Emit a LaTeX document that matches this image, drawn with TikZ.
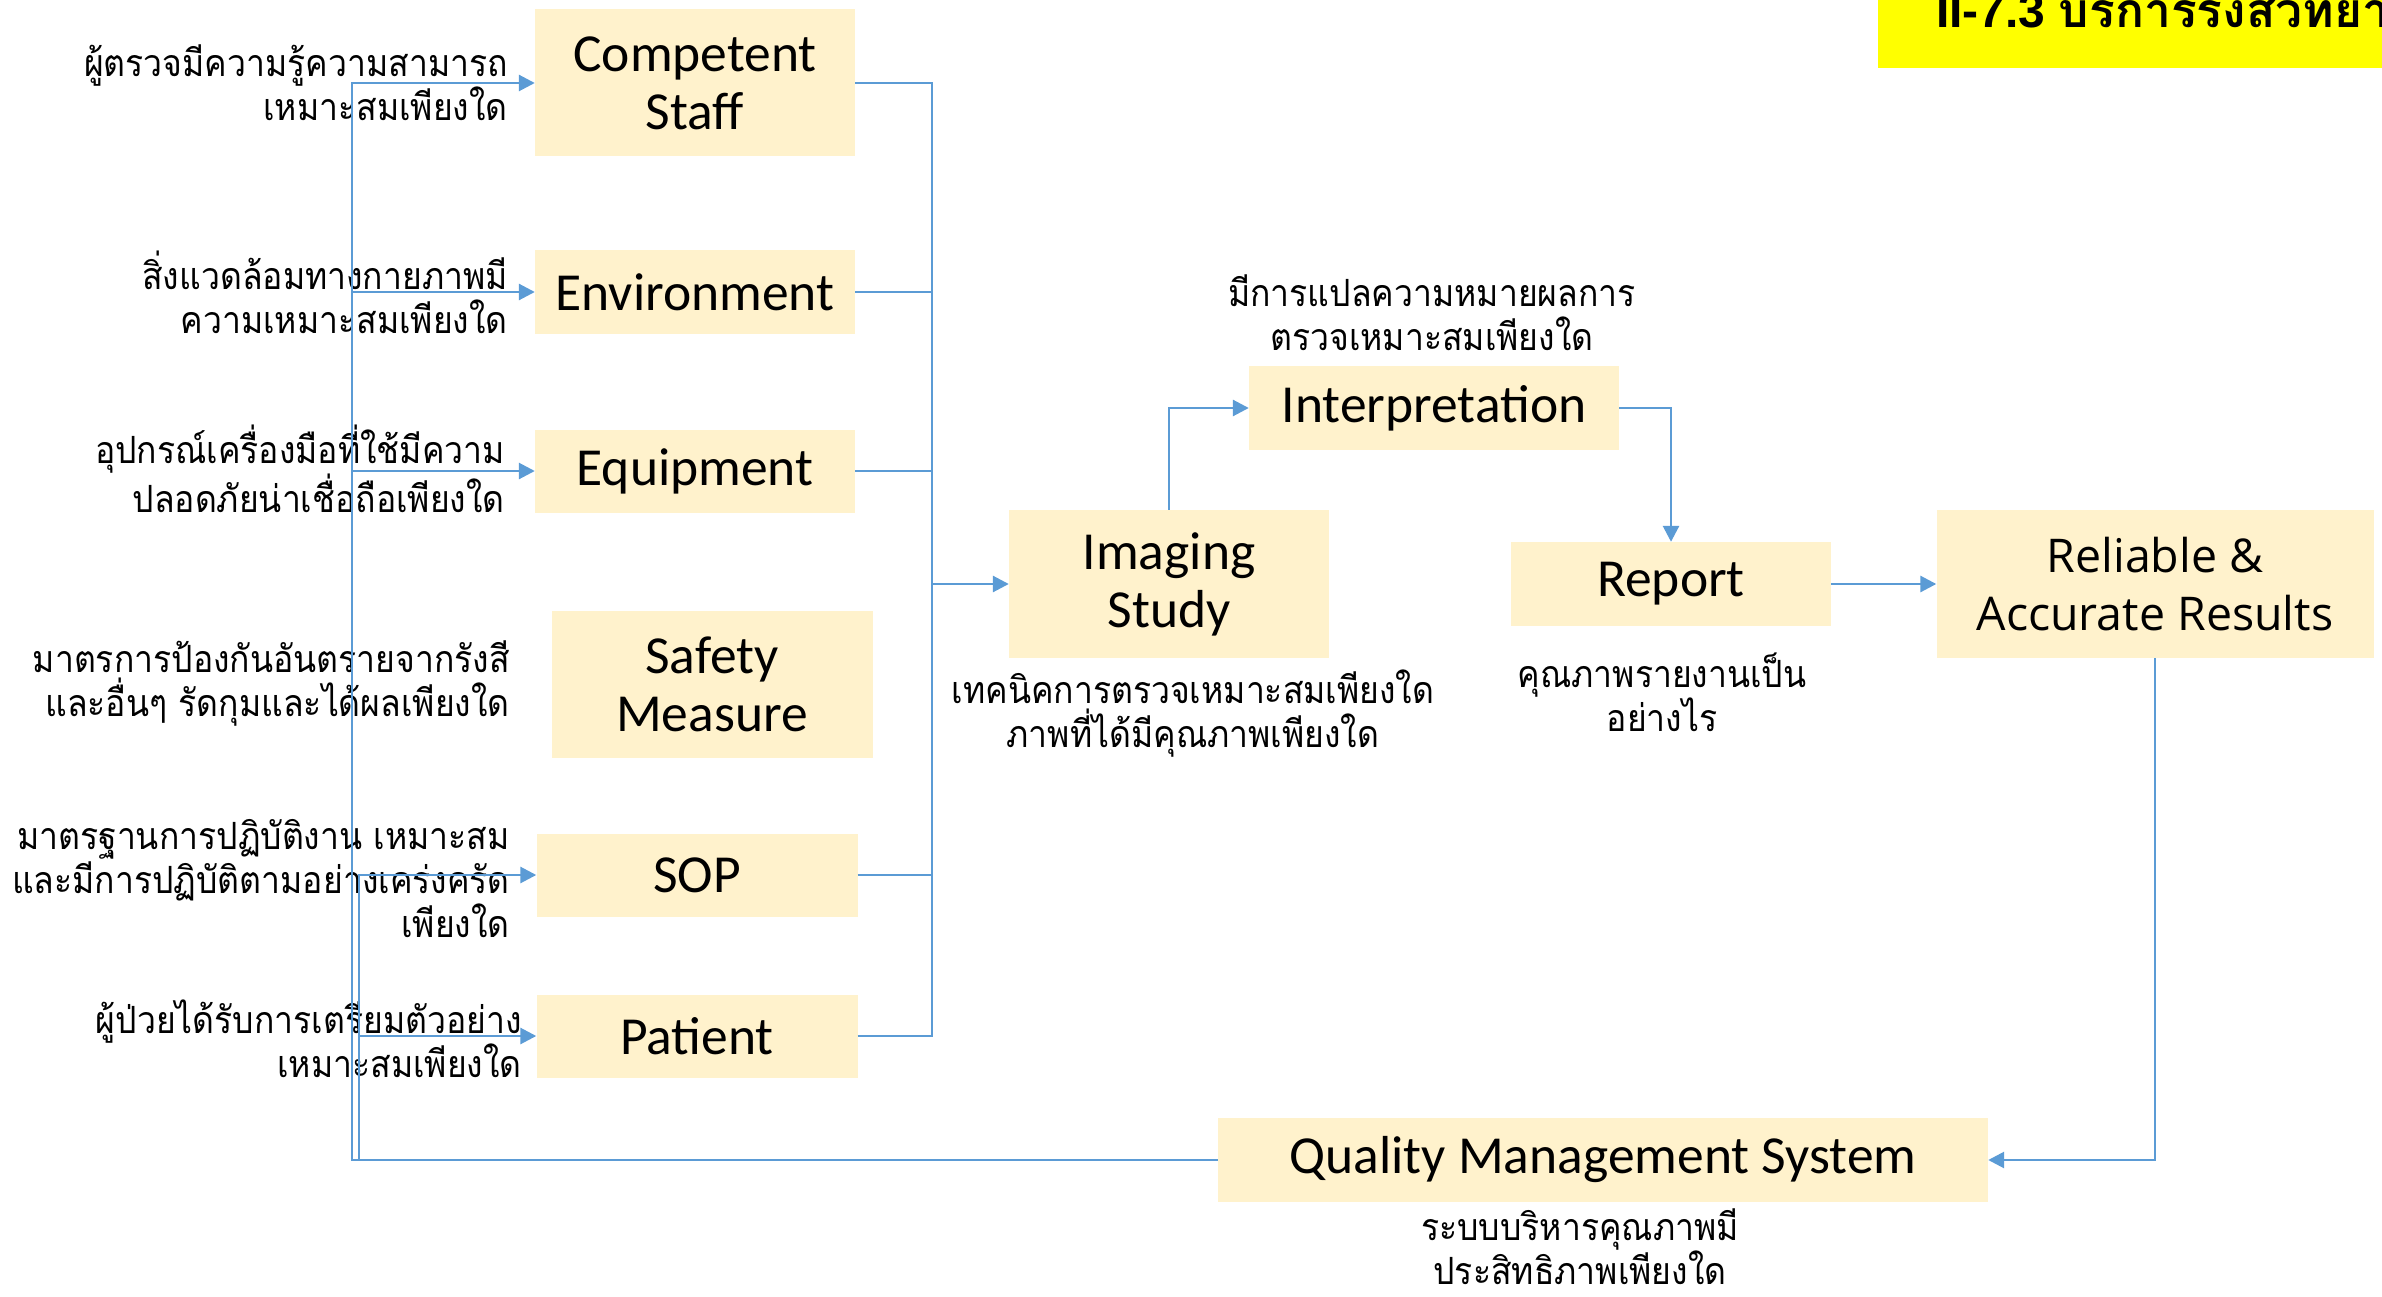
\documentclass[tikz,border=0pt]{standalone}
\usepackage{fontspec}
\usetikzlibrary{arrows.meta,calc}
\newfontfamily\boxfont{Carlito}
\newfontfamily\relfont{Open Sans}
\newfontfamily\thaifont[Script=Thai]{Loma}
\newfontfamily\thailbl[Script=Thai,FakeStretch=0.9]{Loma}
\newfontfamily\titlelat{Liberation Sans}
\definecolor{boxfill}{HTML}{FFF2CC}
\definecolor{linecol}{HTML}{5B9BD5}
\definecolor{titlebg}{HTML}{FFFF00}
\begin{document}
\begin{tikzpicture}[x=1pt,y=-1pt,
  box/.style={fill=boxfill, draw=none, inner sep=0pt, align=center,
    font=\boxfont\fontsize{53.5}{58}\selectfont},
  conn/.style={draw=linecol, line width=2.8pt},
  arr/.style={conn, -{Triangle[length=16pt,width=16pt]}},
  lbl/.style={font=\thailbl\fontsize{37.5}{44}\selectfont, inner sep=0pt},
  lblr/.style={lbl, align=right, anchor=east},
  lblc/.style={lbl, align=center}]
\useasboundingbox (0,0) rectangle (2382,1297);
\clip (0,0) rectangle (2382,1297);
% title
\fill[titlebg] (1878,-5) rectangle (2382,68);
\node[anchor=base west, inner sep=0pt, font=\fontsize{48}{56}\selectfont\bfseries] (title) at (1936,28)
  {\titlelat II-7.3 \thaifont บริการรังสีวิทยา};
% boxes
\node[box, minimum width=320pt, minimum height=147pt] (cs) at (695,83) {Competent\\Staff};
\node[box, minimum width=320pt, minimum height=83pt] (env) at (695,292) {Environment};
\node[box, minimum width=320pt, minimum height=83pt] (eq) at (695,471) {Equipment};
\node[box, minimum width=321pt, minimum height=147pt] (sm) at (712,684) {Safety\\Measure};
\node[box, minimum width=321pt, minimum height=83pt] (sop) at (697,875) {SOP};
\node[box, minimum width=321pt, minimum height=83pt] (pt) at (697,1036) {Patient};
\node[box, minimum width=320pt, minimum height=148pt] (is) at (1169,584) {Imaging\\Study};
\node[box, minimum width=370pt, minimum height=84pt] (ip) at (1434,408) {Interpretation};
\node[box, minimum width=320pt, minimum height=84pt] (rp) at (1671,584) {Report};
\node[box, minimum width=437pt, minimum height=148pt, font=\relfont\fontsize{46.5}{58}\selectfont] (ra) at (2155,584) {Reliable \&\\Accurate Results};
\node[box, minimum width=770pt, minimum height=84pt] (qms) at (1603,1160) {Quality Management System};
% labels
\node[lblr] (l1) at (508,83) {ผู้ตรวจมีความรู้ความสามารถ\\เหมาะสมเพียงใด};
\node[lblr] (l2) at (508,292) {สิ่งแวดล้อมทางกายภาพมี\\ความเหมาะสมเพียงใด};
\node[lblr] (l3) at (505,469) {อุปกรณ์เครื่องมือที่ใช้มีความ\\ปลอดภัยน่าเชื่อถือเพียงใด};
\node[lblr] (l4) at (510,683) {มาตรการป้องกันอันตรายจากรังสี\\และอื่นๆ รัดกุมและได้ผลเพียงใด};
\node[lblr] (l5) at (510,879) {มาตรฐานการปฏิบัติงาน เหมาะสม\\และมีการปฏิบัติตามอย่างเคร่งครัด\\เพียงใด};
\node[lblr] (l6) at (522,1039) {ผู้ป่วยได้รับการเตรียมตัวอย่าง\\เหมาะสมเพียงใด};
\node[lblc] (l7) at (1432,313) {มีการแปลความหมายผลการ\\ตรวจเหมาะสมเพียงใด};
\node[lblc] (l8) at (1193,714) {เทคนิคการตรวจเหมาะสมเพียงใด\\ภาพที่ได้มีคุณภาพเพียงใด};
\node[lblc] (l9) at (1662,692) {คุณภาพรายงานเป็น\\อย่างไร};
\node[lblc] (l10) at (1580,1247) {ระบบบริหารคุณภาพมี\\ประสิทธิภาพเพียงใด};
% connectors
\coordinate (bus) at (932,584);
\coordinate (fbA) at (352,1160);
\coordinate (fbB) at (359,1160);
\draw[conn] (cs.east) -| (bus);
\draw[conn] (env.east) -| (bus);
\draw[conn] (eq.east) -| (bus);
\draw[conn] (sop.east) -| (bus);
\draw[conn] (pt.east) -| (bus);
\draw[arr] (bus) -- (is.west);
\draw[arr] (is.north) |- (ip.west);
\draw[arr] (ip.east) -| (rp.north);
\draw[arr] (rp.east) -- (ra.west);
\draw[arr] (ra.south) |- (qms.east);
\draw[arr] (qms.west) -- (fbA) |- (cs.west);
\draw[arr] (qms.west) -- (fbA) |- (env.west);
\draw[arr] (qms.west) -- (fbA) |- (eq.west);
\draw[arr] (qms.west) -- (fbB) |- (sop.west);
\draw[arr] (qms.west) -- (fbB) |- (pt.west);
\end{tikzpicture}
\end{document}
